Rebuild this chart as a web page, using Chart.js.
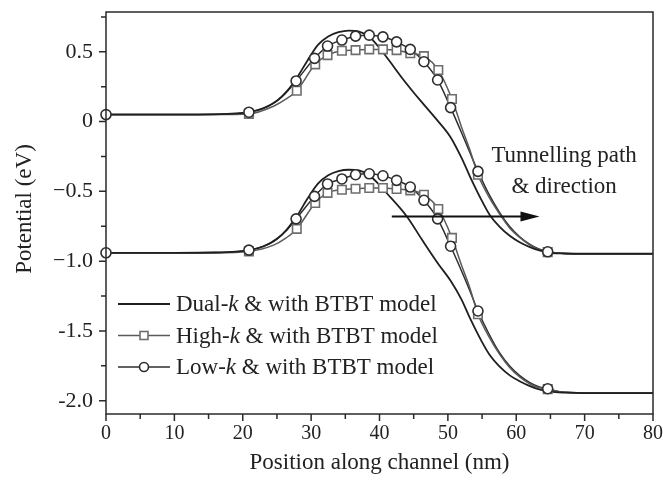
<!DOCTYPE html>
<html><head><meta charset="utf-8">
<script src="https://cdn.jsdelivr.net/npm/chart.js@4.4.1/dist/chart.umd.min.js"></script>
<style>html,body{margin:0;padding:0;background:#fff}</style>
</head><body>
<canvas id="c" width="663" height="483"></canvas>
<script>
// ---- axis ticks ----
const xTicks = [0, 10, 20, 30, 40, 50, 60, 70, 80];
const xMinorTicks = [5, 15, 25, 35, 45, 55, 65, 75];
const yTicks = [-2.0, -1.5, -1.0, -0.5, 0, 0.5];
const yTickLabels = ['-2.0', '-1.5', '\u22121.0', '\u22120.5', '0', '0.5'];
const yMinorTicks = [-1.75, -1.25, -0.75, -0.25, 0.25, 0.75];

// ---- Dual-k (no markers) ----
const dualUpX = [0, 10, 16, 19, 21, 23, 25, 26.5, 28, 29.5, 31, 32.5, 34, 35.5, 37, 38.5, 39.7, 41, 43.5, 45.9, 48.4, 50.3, 52, 53.2, 55, 56.2, 57.5, 59.1, 60.5, 62, 63.5, 65, 67, 70, 80];
const dualUpY = [0.05, 0.05, 0.052, 0.058, 0.07, 0.095, 0.15, 0.22, 0.32, 0.44, 0.55, 0.61, 0.64, 0.652, 0.645, 0.61, 0.545, 0.464, 0.3, 0.155, 0.012, -0.105, -0.26, -0.39, -0.57, -0.675, -0.75, -0.82, -0.865, -0.9, -0.925, -0.94, -0.945, -0.947, -0.947];
const dualLoX = [0, 10, 16, 19, 21, 23, 25, 26.5, 28, 29.5, 31, 32.5, 34, 35.5, 37, 38.5, 39.7, 41, 44, 46.2, 48.6, 50.4, 52, 53.2, 55, 56.2, 57.5, 59.1, 60.5, 62, 63.5, 65, 67, 70, 80];
const dualLoY = [-0.94, -0.94, -0.938, -0.932, -0.92, -0.895, -0.84, -0.77, -0.67, -0.55, -0.445, -0.385, -0.355, -0.345, -0.35, -0.385, -0.44, -0.51, -0.68, -0.845, -1.02, -1.14, -1.275, -1.405, -1.58, -1.678, -1.752, -1.82, -1.86, -1.895, -1.92, -1.935, -1.942, -1.945, -1.945];

// ---- High-k (square markers) ----
const highUpMarkX = [20.9, 27.9, 30.6, 32.4, 34.5, 36.5, 38.5, 40.5, 42.5, 44.5, 46.5, 48.6, 50.6, 54.4, 64.6];
const highUpMarkY = [0.055, 0.221, 0.41, 0.476, 0.507, 0.512, 0.517, 0.517, 0.512, 0.489, 0.469, 0.369, 0.162, -0.381, -0.935];
const highUpLineX = [0, 10, 16, 24.5, 26.3, 52, 53.2, 56, 57.6, 59, 60.5, 62, 63.3, 66.5, 70, 80];
const highUpLineY = [0.05, 0.05, 0.05, 0.11, 0.16, -0.04, -0.2, -0.54, -0.665, -0.76, -0.83, -0.885, -0.917, -0.944, -0.947, -0.947];
const highLoMarkX = [20.9, 27.9, 30.6, 32.4, 34.5, 36.5, 38.5, 40.5, 42.5, 44.5, 46.5, 48.6, 50.6, 54.4, 64.6];
const highLoMarkY = [-0.93, -0.769, -0.583, -0.511, -0.488, -0.481, -0.476, -0.476, -0.483, -0.493, -0.524, -0.626, -0.833, -1.38, -1.917];
const highLoLineX = [0, 10, 16, 24.5, 26.3, 52, 53.2, 56, 57.6, 59, 60.5, 62, 63.3, 66.5, 70, 80];
const highLoLineY = [-0.94, -0.94, -0.94, -0.885, -0.835, -1.03, -1.19, -1.54, -1.67, -1.76, -1.83, -1.88, -1.905, -1.937, -1.942, -1.942];

// ---- Low-k (circle markers) ----
const lowUpMarkX = [0, 20.9, 27.8, 30.5, 32.4, 34.5, 36.5, 38.5, 40.5, 42.5, 44.5, 46.5, 48.5, 50.4, 54.4, 64.6];
const lowUpMarkY = [0.05, 0.067, 0.291, 0.453, 0.541, 0.584, 0.612, 0.619, 0.607, 0.571, 0.517, 0.429, 0.298, 0.1, -0.357, -0.933];
const lowUpLineX = [10, 16, 24.5, 26.2, 52, 53.2, 56, 57.6, 59, 60.5, 62, 63.3, 66.5, 70, 80];
const lowUpLineY = [0.05, 0.052, 0.13, 0.2, -0.08, -0.22, -0.52, -0.654, -0.75, -0.825, -0.88, -0.913, -0.943, -0.947, -0.947];
const lowLoMarkX = [0, 20.9, 27.8, 30.5, 32.4, 34.5, 36.5, 38.5, 40.5, 42.5, 44.5, 46.5, 48.5, 50.4, 54.4, 64.6];
const lowLoMarkY = [-0.94, -0.921, -0.697, -0.536, -0.447, -0.411, -0.381, -0.374, -0.388, -0.421, -0.469, -0.564, -0.697, -0.893, -1.357, -1.914];
const lowLoLineX = [10, 16, 24.5, 26.2, 52, 53.2, 56, 57.6, 59, 60.5, 62, 63.3, 66.5, 70, 80];
const lowLoLineY = [-0.94, -0.938, -0.86, -0.79, -1.07, -1.21, -1.52, -1.66, -1.75, -1.82, -1.87, -1.9, -1.937, -1.942, -1.942];

// ---- annotation ----
const arrowStart = [41.8, -0.68];
const arrowEnd = [63.4, -0.68];
const noteLines = ['Tunnelling path', '& direction'];
const noteAnchor = [67.0, -0.29];
const legendLabels = [['Dual-', 'k', ' & with BTBT model'], ['High-', 'k', ' & with BTBT model'], ['Low-', 'k', ' & with BTBT model']];
const xTitle = 'Position along channel (nm)';
const yTitle = 'Potential (eV)';

// ---- helpers ----
const pts = (xs, ys) => xs.map((x, i) => ({x: x, y: ys[i]}));
const merged = (ax, ay, bx, by) => pts(ax, ay).concat(pts(bx, by)).sort((a, b) => a.x - b.x);

const FONT = "'Liberation Serif', 'Times New Roman', serif";
const DUAL_COLOR = '#1f1f1f', HIGH_COLOR = '#5a5a5a', HIGH_MARK = '#6e6e6e', LOW_COLOR = '#2e2e2e';

function lineDs(data, color, width) {
  return {data: data, showLine: true, borderColor: color, borderWidth: width, pointRadius: 0,
          cubicInterpolationMode: 'monotone', fill: false, order: 10};
}
function markDs(data, style, r, color, order) {
  return {data: data, showLine: false, pointStyle: style, pointRadius: r, pointBorderWidth: 1.6,
          pointBorderColor: color, pointBackgroundColor: '#ffffff', clip: false, order: order};
}

const datasets = [
  lineDs(pts(dualUpX, dualUpY), DUAL_COLOR, 1.8),
  lineDs(pts(dualLoX, dualLoY), DUAL_COLOR, 1.8),
  lineDs(merged(highUpMarkX, highUpMarkY, highUpLineX, highUpLineY), HIGH_COLOR, 1.5),
  lineDs(merged(highLoMarkX, highLoMarkY, highLoLineX, highLoLineY), HIGH_COLOR, 1.5),
  lineDs(merged(lowUpMarkX, lowUpMarkY, lowUpLineX, lowUpLineY), LOW_COLOR, 1.5),
  lineDs(merged(lowLoMarkX, lowLoMarkY, lowLoLineX, lowLoLineY), LOW_COLOR, 1.5),
  markDs(pts(highUpMarkX, highUpMarkY), 'rect', 6, HIGH_MARK, 5),
  markDs(pts(highLoMarkX, highLoMarkY), 'rect', 6, HIGH_MARK, 5),
  markDs(pts(lowUpMarkX, lowUpMarkY), 'circle', 5, LOW_COLOR, 1),
  markDs(pts(lowLoMarkX, lowLoMarkY), 'circle', 5, LOW_COLOR, 1)
];

const decor = {
  id: 'decor',
  afterDraw(chart) {
    const ctx = chart.ctx, a = chart.chartArea, xs = chart.scales.x, ys = chart.scales.y;
    ctx.save();
    // frame
    ctx.strokeStyle = '#2a2a2a'; ctx.lineWidth = 1.5;
    ctx.strokeRect(a.left, a.top, a.right - a.left, a.bottom - a.top);
    // ticks
    ctx.beginPath();
    xTicks.forEach(v => { const p = xs.getPixelForValue(v); ctx.moveTo(p, a.bottom); ctx.lineTo(p, a.bottom + 7); });
    xMinorTicks.forEach(v => { const p = xs.getPixelForValue(v); ctx.moveTo(p, a.bottom); ctx.lineTo(p, a.bottom + 5); });
    yTicks.forEach(v => { const p = ys.getPixelForValue(v); ctx.moveTo(a.left, p); ctx.lineTo(a.left - 7, p); });
    yMinorTicks.forEach(v => { const p = ys.getPixelForValue(v); ctx.moveTo(a.left, p); ctx.lineTo(a.left - 5, p); });
    ctx.stroke();

    // axis titles
    ctx.fillStyle = '#222';
    ctx.font = '23px ' + FONT;
    ctx.textAlign = 'center'; ctx.textBaseline = 'alphabetic';
    ctx.fillText(xTitle, (a.left + a.right) / 2, a.bottom + 55);
    ctx.save();
    ctx.translate(31, a.top + 197);
    ctx.rotate(-Math.PI / 2);
    ctx.fillText(yTitle, 0, 0);
    ctx.restore();

    // arrow
    const x1 = xs.getPixelForValue(arrowStart[0]), y1 = ys.getPixelForValue(arrowStart[1]);
    const x2 = xs.getPixelForValue(arrowEnd[0]), y2 = ys.getPixelForValue(arrowEnd[1]);
    ctx.strokeStyle = '#111'; ctx.fillStyle = '#111'; ctx.lineWidth = 2;
    ctx.beginPath(); ctx.moveTo(x1, y1); ctx.lineTo(x2 - 14, y2); ctx.stroke();
    ctx.beginPath(); ctx.moveTo(x2, y2); ctx.lineTo(x2 - 19, y2 - 5); ctx.lineTo(x2 - 19, y2 + 5); ctx.closePath(); ctx.fill();

    // note
    ctx.fillStyle = '#222';
    ctx.font = '23px ' + FONT;
    const nx = xs.getPixelForValue(noteAnchor[0]), ny = ys.getPixelForValue(noteAnchor[1]);
    noteLines.forEach((t, i) => ctx.fillText(t, nx, ny + i * 31));

    // legend
    const lx = a.left + 12, ly = a.top + 292, step = 31.5;
    ctx.textAlign = 'left'; ctx.textBaseline = 'middle';
    legendLabels.forEach((parts, i) => {
      const y = ly + i * step;
      const col = i === 0 ? DUAL_COLOR : (i === 1 ? HIGH_COLOR : LOW_COLOR);
      ctx.strokeStyle = col; ctx.lineWidth = i === 0 ? 1.8 : 1.5;
      ctx.beginPath(); ctx.moveTo(lx, y); ctx.lineTo(lx + 52, y); ctx.stroke();
      const mx = lx + 26;
      if (i === 1) {
        ctx.fillStyle = '#fff'; ctx.strokeStyle = HIGH_MARK; ctx.lineWidth = 1.6;
        ctx.fillRect(mx - 4, y - 4, 8, 8); ctx.strokeRect(mx - 4, y - 4, 8, 8);
      } else if (i === 2) {
        ctx.fillStyle = '#fff'; ctx.strokeStyle = LOW_COLOR; ctx.lineWidth = 1.6;
        ctx.beginPath(); ctx.arc(mx, y, 4.5, 0, Math.PI * 2); ctx.fill(); ctx.stroke();
      }
      ctx.fillStyle = '#222';
      let tx = lx + 58;
      parts.forEach((p, j) => {
        ctx.font = (j === 1 ? 'italic ' : '') + '23px ' + FONT;
        ctx.fillText(p, tx, y + 1);
        tx += ctx.measureText(p).width;
      });
    });
    ctx.restore();
  }
};

new Chart(document.getElementById('c'), {
  type: 'scatter',
  data: {datasets: datasets},
  options: {
    responsive: false, animation: false, devicePixelRatio: 1,
    layout: {padding: {top: 12, right: 10, left: 0, bottom: 0}},
    plugins: {legend: {display: false}, tooltip: {enabled: false}},
    scales: {
      x: {
        type: 'linear', min: 0, max: 80,
        afterBuildTicks: s => { s.ticks = xTicks.map(v => ({value: v})); },
        afterFit: s => { s.height = 69; s.paddingLeft = 0; s.paddingRight = 0; s.paddingTop = 0; s.paddingBottom = 0; },
        grid: {display: false, drawTicks: false}, border: {display: false},
        ticks: {font: {family: FONT, size: 20}, color: '#222', padding: 8, maxRotation: 0, autoSkip: false}
      },
      y: {
        type: 'linear', min: -2.095, max: 0.785,
        afterBuildTicks: s => { s.ticks = yTicks.map(v => ({value: v})); },
        afterFit: s => { s.width = 106; s.paddingLeft = 0; s.paddingRight = 0; s.paddingTop = 0; s.paddingBottom = 0; },
        grid: {display: false, drawTicks: false}, border: {display: false},
        ticks: {font: {family: FONT, size: 22}, color: '#222', padding: 13, autoSkip: false,
                callback: v => yTickLabels[yTicks.indexOf(v)]}
      }
    }
  },
  plugins: [decor]
});
</script>
</body></html>
